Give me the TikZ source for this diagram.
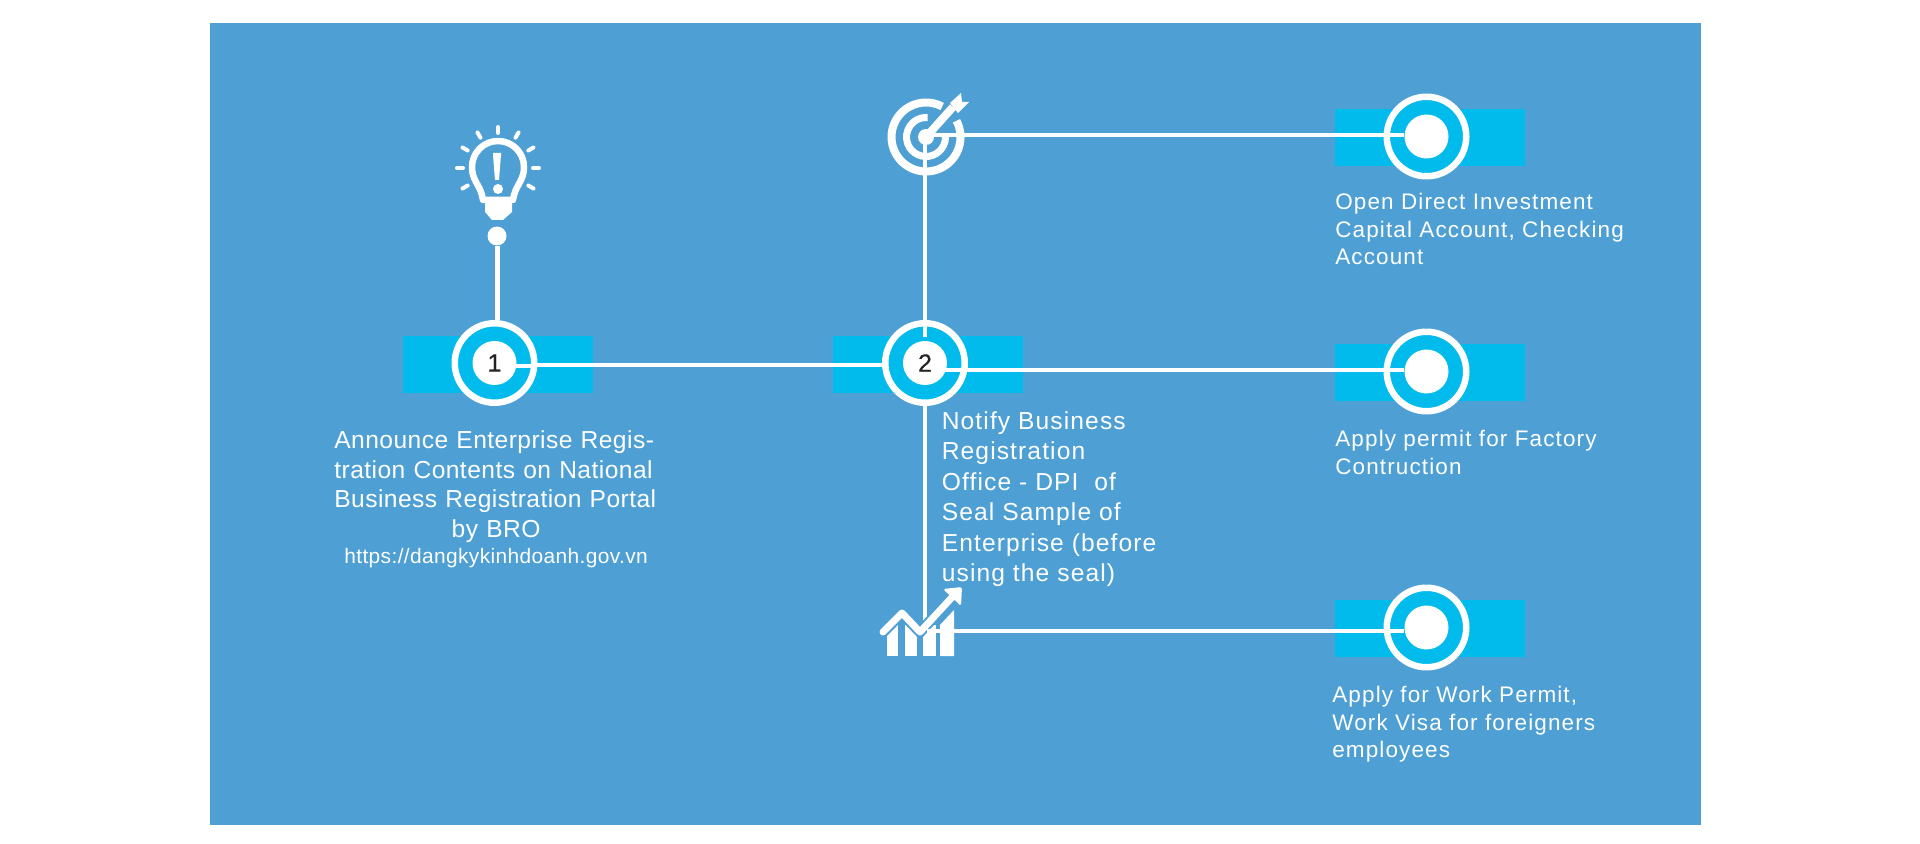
\documentclass[tikz,border=0pt]{standalone}
\usepackage{fontspec}
\setmainfont{Liberation Sans}[LetterSpace=5]
\newfontfamily\leftface{Liberation Sans}[LetterSpace=1.8]
\newfontfamily\midface{Liberation Sans}[LetterSpace=4.5]
\newfontfamily\hubface{Liberation Sans}[FakeBold=0.5]
\definecolor{panelblue}{RGB}{77,159,212}
\definecolor{bandblue}{RGB}{0,187,236}
\definecolor{numdark}{RGB}{35,35,35}
\tikzset{
  band/.style={fill=bandblue,minimum width=3.8cm,minimum height=1.14cm,inner sep=0pt},
  ring/.style={circle,draw=white,line width=.13cm,fill=bandblue,minimum size=1.59cm,inner sep=0pt},
  hub/.style={circle,fill=white,minimum size=.88cm,inner sep=0pt,text=numdark,font=\hubface\fontsize{14.2}{14.2}\selectfont},
  link/.style={draw=white,line width=.08cm},
  note/.style={text=white,align=left,inner sep=0pt,anchor=north west,font=\fontsize{12.8}{15.7}\selectfont},
  midnote/.style={note,font=\midface\fontsize{14}{17.35}\selectfont},
  leftnote/.style={note,font=\leftface\fontsize{14}{17}\selectfont},
  ray/.style={draw=white,line width=.08cm,line cap=round}
}
\begin{document}
\begin{tikzpicture}[x=.02cm,y=-.02cm]
  \useasboundingbox (0,0) rectangle (1920,844);
  \fill[white] (0,0) rectangle (1920,844);
  \fill[panelblue] (210,23) rectangle (1701,825);

  \node[band] (bandA) at (498,364.5) {};
  \node[band] (bandB) at (928,364.5) {};
  \node[band] (bandC) at (1430,137.5) {};
  \node[band] (bandD) at (1430,372.5) {};
  \node[band] (bandE) at (1430,628.5) {};

  \node[ring] (ringA) at (494.5,363) {};
  \node[ring] (ringB) at (925,363) {};
  \node[ring] (ringC) at (1426.5,136.5) {};
  \node[ring] (ringD) at (1426.5,371.5) {};
  \node[ring] (ringE) at (1426.5,627.5) {};

  \node[circle,fill=white,minimum size=.38cm,inner sep=0pt] (tipA) at (497,236) {};
  \node[circle,fill=white,minimum size=.32cm,inner sep=0pt] (eyeT) at (926,137) {};
  \coordinate (outT) at (933,135);
  \coordinate (topB) at (925,337);
  \coordinate (outA) at (510,366);
  \coordinate (inB) at (882,365);
  \coordinate (outB) at (945,370);
  \coordinate (footS) at (925,630);
  \coordinate (outS) at (927,631);

  \draw[link] (topB |- eyeT) -- (topB);
  \draw[link] (ringB.south) -- (footS);

  % bulb
  \foreach \a in {0,-30,-60,-90,-120,-150,180,30,150}
    \draw[ray] (498,168) ++(\a:35) -- ++(\a:6);
  \draw[white,line width=.13cm,line join=round] (483,200) -- (482,195) .. controls (479,184) and (472,180) .. (472,167)
    arc[start angle=180,end angle=360,radius=26]
    .. controls (524,180) and (517,184) .. (514,195) -- (513,200) -- cycle;
  \fill[white] (485,200) -- (512,200) -- (512,212) -- (503,220) -- (492,220) -- (485,212) -- cycle;
  \fill[white] (493,155) -- (493,153) -- (501,153) -- (501,155) -- (499,180) -- (495,180) -- cycle;
  \fill[white] (498,189) circle (5);
  \draw[link,line width=.1cm] (tipA) -- (tipA |- ringA.north);

  % target
  \draw[white,line width=.16cm] (eyeT.center) ++(-28:34.5) arc[start angle=-28,end angle=298,radius=34.5];
  \draw[white,line width=.14cm] (eyeT.center) ++(-9:19.5) arc[start angle=-9,end angle=275,radius=19.5];
  \draw[white,line width=.16cm] (eyeT.center) -- (953,107);
  \fill[white] (950,103) -- (961,93) -- (962,102) -- (969,102) -- (958,113) -- cycle;

  % chart
  \fill[white] (887,625) rectangle (898,656);
  \fill[white] (905,625) rectangle (917,656);
  \fill[white] (923,625) rectangle (936,656);
  \fill[white] (940,625) -- (954,610) -- (954,656) -- (940,656) -- cycle;
  \draw[panelblue,line width=.22cm] (883,632) -- (902,613) -- (920,632) -- (956,593);
  \draw[white,line width=.14cm,line cap=round,line join=round] (883,632) -- (902,613) -- (920,632) -- (956,593);
  \fill[white,rounded corners=1pt] (943,589) -- (962,587) -- (961,606) -- cycle;

  \draw[link] (ringA.east |- inB) -- (inB);
  \draw[link] (outA) -- (ringA.east |- outA);
  \draw[link] (outB) -- (outB -| ringD.west);
  \draw[link] (outT) -- (outT -| ringC.west);
  \draw[link] (outS) -- (outS -| ringE.west);

  \node[hub] (hubA) at (ringA) {1};
  \node[hub] (hubB) at (ringB) {2};
  \node[hub] (hubC) at (ringC) {};
  \node[hub] (hubD) at (ringD) {};
  \node[hub] (hubE) at (ringE) {};
  \draw[link] (outT -| ringC.west) -- (outT -| hubC.west);
  \draw[link] (outB -| ringD.west) -- (outB -| hubD.west);
  \draw[link] (outS -| ringE.west) -- (outS -| hubE.west);

  \node[leftnote,text width=6.47cm] (noteA) at (334,430) {%
    \makebox[\linewidth][s]{Announce Enterprise Regis-}\\
    \makebox[\linewidth][s]{tration Contents on National}\\
    \makebox[\linewidth][s]{Business Registration Portal}\\
    \makebox[\linewidth][c]{by BRO}\\[-2.3pt]
    \makebox[\linewidth][c]{\fontsize{11.9}{14}\selectfont https://dangkykinhdoanh.gov.vn}};
  \node[midnote] (noteB) at (941.5,411) {Notify Business\\Registration\\Office - DPI\ \ of\\Seal Sample of\\Enterprise (before\\using the seal)};
  \node[note] (noteC) at (1335,193) {Open Direct Investment\\Capital Account, Checking\\Account};
  \node[note] (noteD) at (1335,430) {Apply permit for Factory\\Contruction};
  \node[note] (noteE) at (1332,686) {Apply for Work Permit,\\Work Visa for foreigners\\employees};
\end{tikzpicture}
\end{document}
